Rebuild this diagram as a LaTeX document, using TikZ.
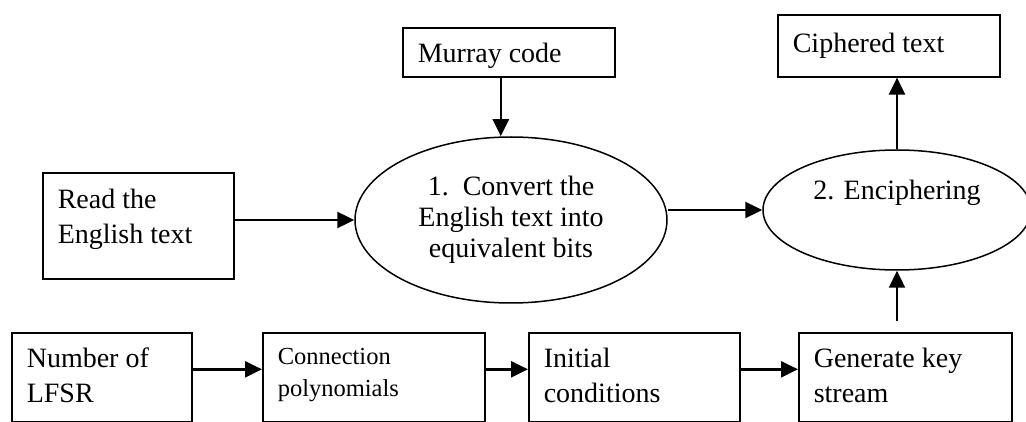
\documentclass[tikz,border=0pt]{standalone}
\usepackage{fontspec}
\setmainfont{Liberation Serif}
\usetikzlibrary{shapes.geometric,arrows.meta,calc}
\newcommand{\bxt}[4]{\begin{minipage}[c][#1][t]{#2}\vspace*{#3}\raggedright #4\end{minipage}}
\tikzset{
  boxnode/.style={draw, line width=1.6pt, rectangle, inner xsep=15pt, inner ysep=0pt, anchor=north west,
     font=\fontsize{28}{35}\selectfont},
  ellnode/.style={draw, line width=1.5pt, ellipse, inner sep=0pt,
     font=\fontsize{28}{31}\selectfont},
  arr/.style={line width=2.4pt, -{Triangle[length=17pt,width=16pt]}}
}
\begin{document}
\begin{tikzpicture}[x=1pt,y=-1pt]
\useasboundingbox (0,0) rectangle (1026,422);
% boxes
\node[boxnode] (murray) at (402,27) {\bxt{49pt}{182pt}{15pt}{Murray code}};
\node[boxnode] (cipher) at (777,14) {\bxt{62pt}{192pt}{18pt}{Ciphered text}};
\node[boxnode] (read) at (42,172) {\bxt{106pt}{161pt}{16pt}{Read the\\English text}};
\node[boxnode] (b1) at (11,332) {\bxt{89pt}{150pt}{15pt}{Number of\\LFSR}};
\node[boxnode, font=\fontsize{24.5}{32}\selectfont] (b2) at (262,332) {\bxt{89pt}{192pt}{15pt}{Connection\\polynomials}};
\node[boxnode] (b3) at (528,332) {\bxt{89pt}{181pt}{15pt}{Initial\\conditions}};
\node[boxnode] (b4) at (798,332) {\bxt{89pt}{183pt}{15pt}{Generate key\\stream}};
% ellipses
\node[ellnode, minimum width=312pt, minimum height=166pt, align=center] (e1) at (511,220)
  {1.\ \ Convert the\\English text into\\equivalent bits};
\node[ellnode, minimum width=268pt, minimum height=120pt,
  label={[yshift=17pt, font=\fontsize{28}{31}\selectfont]center:2. Enciphering}] (e2) at (897,210) {};
% connectors
\coordinate (mfoot) at ($(murray.south)+(-8,0)$);
\draw[arr] (mfoot) -- (mfoot |- e1.north);
\draw[arr] (read.east |- e1.west) -- (e1.west);
\draw[arr] (e1.east |- e2.west) -- (e2.west);
\draw[arr] (e2.north) -- (e2.north |- cipher.south);
\coordinate (kstart) at ($(e2.south |- b4.north)+(0,-11)$);
\draw[arr] (kstart) -- (e2.south);
\draw[arr] ($(b1.east)+(0,-8)$) -- ($(b2.west)+(0,-8)$);
\draw[arr] ($(b2.east)+(0,-8)$) -- ($(b3.west)+(0,-8)$);
\draw[arr] ($(b3.east)+(0,-8)$) -- ($(b4.west)+(0,-8)$);
\end{tikzpicture}
\end{document}
